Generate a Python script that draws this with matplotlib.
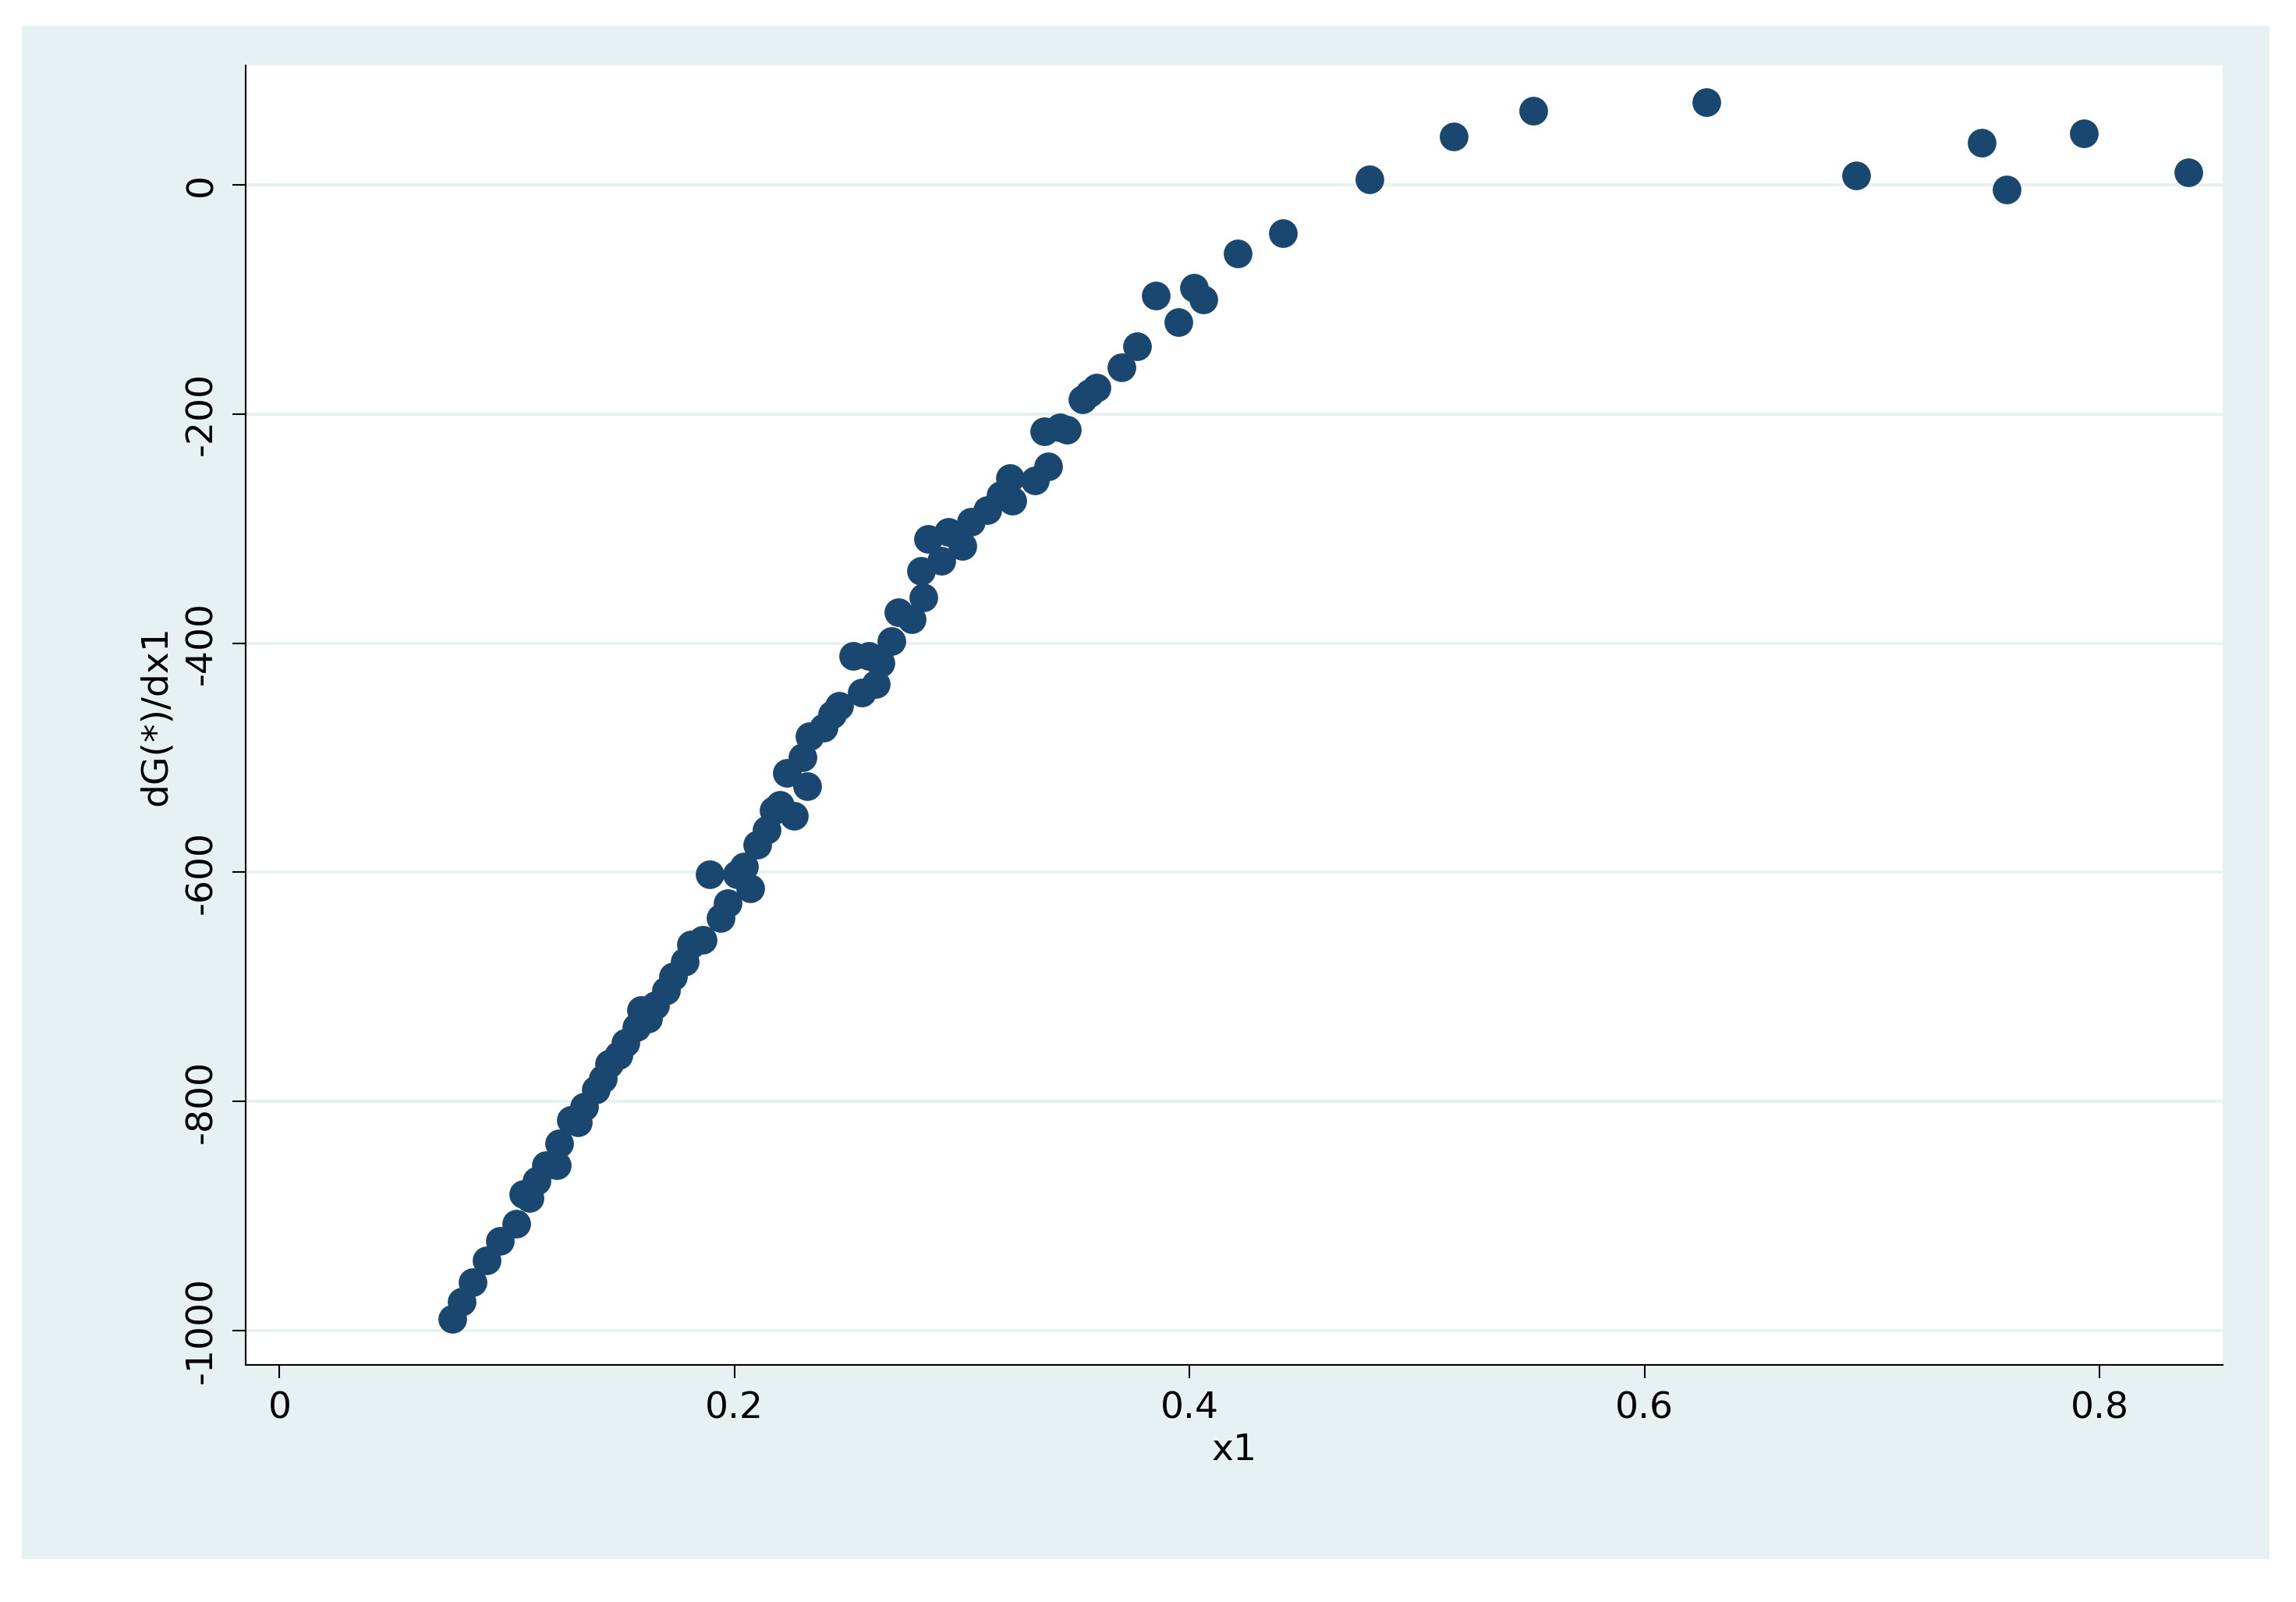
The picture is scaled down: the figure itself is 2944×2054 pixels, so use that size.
import matplotlib
matplotlib.use("Agg")
import matplotlib.pyplot as plt
from matplotlib.patches import Rectangle

# x1 and dG(*)/dx1 values
x1 = [0.479, 0.516, 0.551, 0.627, 0.693, 0.748, 0.759, 0.793, 0.839,
      0.441, 0.421, 0.406, 0.402, 0.395, 0.385, 0.377, 0.370, 0.359, 0.353,
      0.343, 0.336, 0.332, 0.322, 0.321, 0.304, 0.300, 0.291, 0.282, 0.283,
      0.278, 0.269, 0.264, 0.252, 0.256, 0.243, 0.233, 0.232, 0.226, 0.217,
      0.210, 0.201, 0.194, 0.189, 0.181, 0.173, 0.165, 0.159, 0.152, 0.145,
      0.139, 0.134, 0.128, 0.123, 0.117, 0.110, 0.104, 0.097, 0.091, 0.085,
      0.080, 0.076,
      0.107, 0.113, 0.122, 0.131, 0.142, 0.149, 0.157, 0.162, 0.170, 0.178,
      0.186, 0.197, 0.204, 0.207, 0.214, 0.220, 0.223, 0.230, 0.239, 0.246,
      0.259, 0.262, 0.272, 0.285, 0.294, 0.311, 0.317, 0.338, 0.346, 0.356]
dg = [5, 42, 65, 72, 8, 37, -4, 45, 11,
      -42, -60, -100, -90, -120, -97, -141, -159, -177, -187,
      -212, -215, -258, -276, -256, -294, -315, -328, -337, -360,
      -379, -398, -417, -411, -443, -462, -481, -525, -551, -546,
      -576, -602, -640, -602, -663, -691, -716, -720, -749, -767,
      -790, -805, -816, -837, -856, -884, -907, -922, -939, -958,
      -975, -990,
      -881, -869, -856, -818, -780, -760, -735, -728, -703, -678,
      -659, -627, -595, -614, -563, -541, -513, -500, -474, -455,
      -411, -436, -373, -309, -303, -284, -271, -246, -214, -182]
xticks = [0, 0.2, 0.4, 0.6, 0.8]
yticks = [-1000, -800, -600, -400, -200, 0]

fig = plt.figure(figsize=(29.44, 20.54), dpi=100, facecolor="white")
bg = Rectangle((0.0096, 0.027), 0.979, 0.957, transform=fig.transFigure,
               facecolor="#e8f1f2", edgecolor="none", zorder=-10)
fig.add_artist(bg)
ax = fig.add_axes([0.107, 0.148, 0.861, 0.811])
ax.set_zorder(5)
ax.set_facecolor("white")

for y in yticks:
    ax.axhline(y, color="#e8f1f2", lw=3, zorder=1)
ax.scatter(x1, dg, s=700, color="#1a476f", zorder=3, linewidths=0)

ax.set_xlim(-0.0149, 0.854)
ax.set_ylim(-1030, 104)
ax.set_xticks(xticks)
ax.set_xticklabels(["0", "0.2", "0.4", "0.6", "0.8"])
ax.set_yticks(yticks)
ax.set_yticklabels([str(v) for v in yticks], rotation=90, va="center")
ax.tick_params(labelsize=34, length=12, width=1.5, direction="out", pad=12)
for s in ["top", "right"]:
    ax.spines[s].set_visible(False)
for s in ["left", "bottom"]:
    ax.spines[s].set_linewidth(1.5)
ax.set_xlabel("x1", fontsize=34, labelpad=6)
ax.set_ylabel("dG(*)/dx1", fontsize=34, labelpad=10)

fig.savefig("out.png", dpi=100, facecolor="white")
